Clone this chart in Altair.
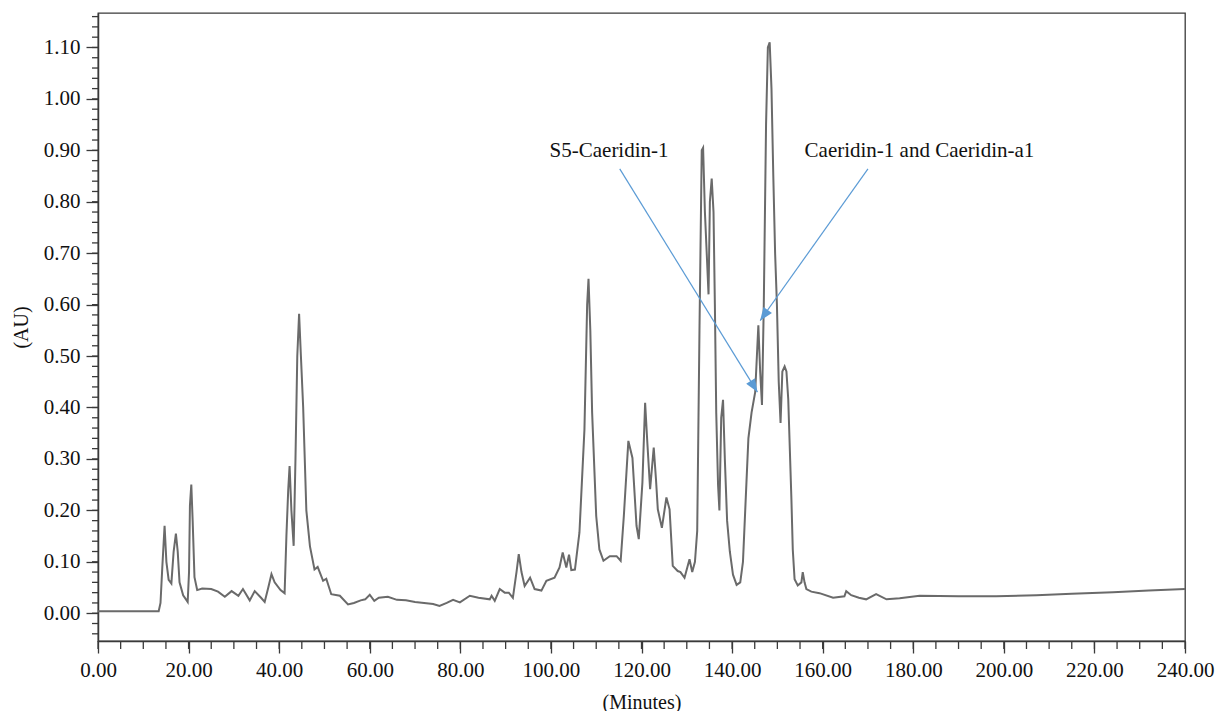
import math
import altair as alt
import pandas as pd

# Chromatogram trace: retention time (min) and absorbance (AU)
minutes = [
    0.0, 13.4, 13.8, 14.2, 14.7, 15.1, 15.6, 16.2, 16.7, 17.2, 17.6, 18.0, 18.8, 19.8,
    20.1, 20.3, 20.6, 20.9, 21.3, 21.9, 23.0, 25.0, 26.5, 28.0, 29.5, 31.0, 32.0, 33.5,
    34.6, 36.0, 36.8, 37.6, 38.3, 39.0, 40.3, 41.2, 41.6, 42.0, 42.3, 42.7, 43.2, 43.6,
    44.0, 44.4, 44.8, 45.3, 46.0, 46.8, 47.8, 48.5, 49.7, 50.4, 51.5, 53.4, 55.2, 56.5,
    58.0, 59.0, 60.0, 61.0, 62.0, 64.0, 66.0, 68.0, 70.0, 72.0, 74.0, 75.4, 77.0, 78.4,
    79.9, 82.1, 84.0, 86.5, 86.9, 87.6, 88.7, 89.8, 90.7, 91.6, 92.4, 92.9, 93.5, 94.2,
    95.4, 96.4, 97.9, 99.0, 100.8, 101.9, 102.6, 103.4, 104.0, 104.5, 105.3, 106.3,
    107.4, 108.0, 108.3, 108.7, 109.1, 110.0, 110.7, 111.6, 113.0, 114.5, 115.4, 116.1,
    117.1, 118.0, 118.9, 119.4, 120.2, 120.8, 121.3, 121.9, 122.7, 123.2, 123.6, 124.5,
    125.5, 126.2, 126.9, 128.0, 128.6, 129.5, 130.6, 131.2, 131.8, 132.3, 132.8, 133.3,
    133.6, 134.0, 134.4, 134.8, 135.1, 135.5, 135.9, 136.2, 136.5, 136.9, 137.2, 137.6,
    138.0, 138.4, 138.9, 139.5, 140.2, 141.0, 141.8, 142.4, 142.9, 143.6, 144.3, 145.1,
    145.8, 146.2, 146.6, 147.0, 147.5, 147.9, 148.3, 148.7, 149.1, 149.5, 149.9, 150.3,
    150.7, 151.1, 151.6, 152.0, 152.4, 153.1, 153.4, 153.8, 154.5, 155.3, 155.6, 156.0,
    156.4, 157.5, 159.3, 162.3, 164.8, 165.2, 166.3, 168.0, 169.6, 171.8, 174.1, 177.0,
    181.4, 190.0, 198.3, 207.2, 215.0, 224.1, 232.0, 240.0,
]
absorbance = [
    0.004, 0.004, 0.02, 0.09, 0.17, 0.10, 0.065, 0.058, 0.12, 0.155, 0.12, 0.06, 0.035, 0.022,
    0.08, 0.21, 0.25, 0.18, 0.07, 0.045, 0.048, 0.047, 0.042, 0.032, 0.043, 0.034, 0.047, 0.025,
    0.043, 0.03, 0.022, 0.05, 0.076, 0.06, 0.045, 0.039, 0.15, 0.24, 0.286, 0.20, 0.131, 0.30,
    0.50, 0.582, 0.50, 0.40, 0.20, 0.13, 0.085, 0.09, 0.063, 0.067, 0.037, 0.034, 0.017, 0.02,
    0.025, 0.027, 0.036, 0.024, 0.03, 0.032, 0.026, 0.025, 0.022, 0.02, 0.018, 0.014, 0.02, 0.026,
    0.021, 0.034, 0.03, 0.027, 0.034, 0.024, 0.047, 0.04, 0.04, 0.03, 0.08, 0.115, 0.08, 0.053,
    0.069, 0.047, 0.044, 0.063, 0.069, 0.089, 0.118, 0.089, 0.114, 0.084, 0.085, 0.157,
    0.357, 0.60, 0.65, 0.55, 0.39, 0.189, 0.124, 0.102, 0.111, 0.111, 0.102, 0.189,
    0.335, 0.302, 0.17, 0.144, 0.254, 0.409, 0.33, 0.241, 0.322, 0.26, 0.202, 0.166,
    0.225, 0.202, 0.092, 0.082, 0.08, 0.069, 0.105, 0.08, 0.10, 0.16, 0.55, 0.90,
    0.905, 0.78, 0.70, 0.62, 0.80, 0.845, 0.78, 0.60, 0.39, 0.25, 0.20, 0.38,
    0.415, 0.30, 0.18, 0.12, 0.075, 0.055, 0.06, 0.10, 0.20, 0.34, 0.39, 0.43,
    0.56, 0.47, 0.405, 0.60, 0.95, 1.10, 1.11, 1.02, 0.85, 0.70, 0.60, 0.45,
    0.37, 0.47, 0.48, 0.47, 0.416, 0.221, 0.124, 0.066, 0.054, 0.06, 0.08, 0.06,
    0.047, 0.042, 0.039, 0.03, 0.033, 0.043, 0.035, 0.03, 0.027, 0.037, 0.027, 0.029,
    0.034, 0.033, 0.033, 0.035, 0.038, 0.041, 0.044, 0.047,
]

# Axis ticks
x_major = list(range(0, 241, 20))
x_minor = list(range(0, 241, 5))
y_major = [round(0.1 * i, 2) for i in range(12)]
y_minor = [round(-0.04 + 0.02 * i, 2) for i in range(61)]

# Peak annotations
label_text = ["S5-Caeridin-1", "Caeridin-1 and Caeridin-a1"]
label_t = [99.7, 156.0]
label_v = [0.887, 0.887]
arrow_start_t = [115.2, 170.0]
arrow_start_v = [0.864, 0.864]
arrow_tip_t = [145.6, 146.2]
arrow_tip_v = [0.43, 0.569]

W, H = 1087, 628
X_DOM = [0, 240]
Y_DOM = [-0.054, 1.167]
FONT = "Liberation Serif"
AXIS_COLOR = "#3a3a3a"
ARROW_COLOR = "#5b9bd5"

px_per_min = W / (X_DOM[1] - X_DOM[0])
px_per_au = H / (Y_DOM[1] - Y_DOM[0])
angles = []
for t0, v0, t1, v1 in zip(arrow_start_t, arrow_start_v, arrow_tip_t, arrow_tip_v):
    dx = (t1 - t0) * px_per_min
    dy = -(v1 - v0) * px_per_au
    angles.append(math.degrees(math.atan2(dx, -dy)) % 360)

trace = pd.DataFrame({"t": minutes, "v": absorbance})
labels = pd.DataFrame({"t": label_t, "v": label_v, "text": label_text})
arrows = pd.DataFrame({
    "t": arrow_start_t, "v": arrow_start_v,
    "t2": arrow_tip_t, "v2": arrow_tip_v, "ang": angles,
})

xs = alt.Scale(domain=X_DOM, nice=False, zero=False)
ys = alt.Scale(domain=Y_DOM, nice=False, zero=False)

# One axis definition per channel, shared by every layer so they merge cleanly
x_axis = alt.Axis(
    values=x_major, format=".2f", title="(Minutes)", tickSize=12,
    labelPadding=6, titlePadding=12, grid=False, labelFlush=False, labelOverlap=False,
)
y_axis = alt.Axis(
    values=y_major, format=".2f", title="(AU)", tickSize=12,
    labelPadding=6, titlePadding=12, grid=False, labelFlush=False, labelOverlap=False,
)


def xq(field):
    return alt.X(field, scale=xs, axis=x_axis, title="(Minutes)")


def yq(field):
    return alt.Y(field, scale=ys, axis=y_axis, title="(AU)")


line = alt.Chart(trace).mark_line(color="#6a6a6a", strokeWidth=2, clip=True).encode(
    x=xq("t:Q"), y=yq("v:Q"),
)

y_minor_ticks = alt.Chart(pd.DataFrame({"tick": y_minor})).mark_rule(
    color=AXIS_COLOR, strokeWidth=1.3
).encode(
    y=yq("tick:Q"), x=alt.value(-6), x2=alt.value(0),
)

x_minor_ticks = alt.Chart(pd.DataFrame({"tick": x_minor})).mark_rule(
    color=AXIS_COLOR, strokeWidth=1.3
).encode(
    x=xq("tick:Q"), y=alt.value(H), y2=alt.value(H + 8),
)

text = alt.Chart(labels).mark_text(
    font=FONT, fontSize=21, align="left", baseline="alphabetic", color="#111111"
).encode(
    x=xq("t:Q"), y=yq("v:Q"), text="text:N",
)

arrow_lines = alt.Chart(arrows).mark_rule(color=ARROW_COLOR, strokeWidth=1.2).encode(
    x=xq("t:Q"), y=yq("v:Q"), x2="t2:Q", y2="v2:Q",
)

arrow_heads = alt.Chart(arrows).mark_point(
    shape="M0,0 L-0.4,1 L0.4,1 Z", filled=True, color=ARROW_COLOR, opacity=1, size=676
).encode(
    x=xq("t2:Q"), y=yq("v2:Q"),
    angle=alt.Angle("ang:Q", scale=None),
)

chart = alt.layer(
    line, y_minor_ticks, x_minor_ticks, arrow_lines, arrow_heads, text
).properties(
    width=W, height=H,
    padding={"left": 98, "top": 13, "right": 30, "bottom": 70},
    autosize=alt.AutoSizeParams(type="none"),
    background="white",
).configure_view(
    stroke=AXIS_COLOR, strokeWidth=1.3
).configure_axis(
    labelFont=FONT, titleFont=FONT, labelFontSize=21, titleFontSize=20,
    labelColor="#111111", titleColor="#111111", titleFontWeight="normal",
    domainColor=AXIS_COLOR, tickColor=AXIS_COLOR, domainWidth=1.5, tickWidth=1.3,
)

chart.save("out.html", embed_options={"renderer": "svg", "actions": False})
